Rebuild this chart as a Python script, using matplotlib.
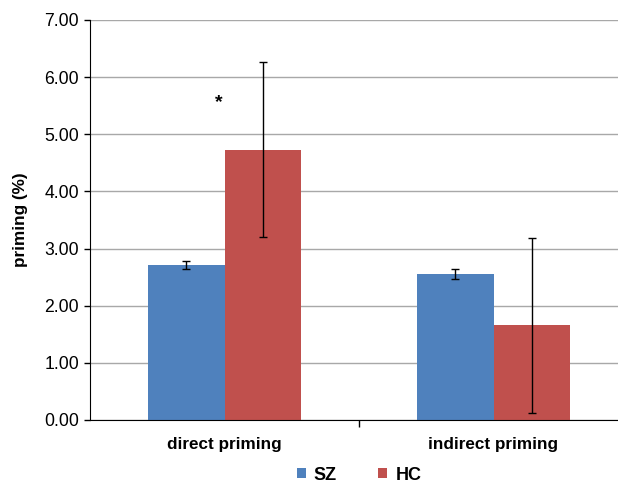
import matplotlib.pyplot as plt
import numpy as np

plt.rcParams['font.family'] = ['Liberation Sans', 'DejaVu Sans']

# data
categories = ["direct priming", "indirect priming"]
groups = ["SZ", "HC"]
sz_mean = [2.71, 2.55]
sz_err = [0.07, 0.09]
hc_mean = [4.73, 1.66]
hc_err = [1.53, 1.53]
colors = ["#4f81bd", "#c0504d"]

fig = plt.figure(figsize=(6.18, 4.84), dpi=100)
ax = fig.add_axes([90 / 618, 64 / 484, 538 / 618, 400 / 484])

x = np.arange(len(categories))
w = 0.286
ax.bar(x - w / 2, sz_mean, w, color=colors[0], label=groups[0], zorder=2)
ax.bar(x + w / 2, hc_mean, w, color=colors[1], label=groups[1], zorder=2)
ax.errorbar(x - w / 2, sz_mean, yerr=sz_err, fmt="none", ecolor="black",
            elinewidth=1, capsize=2.6, capthick=1, zorder=3)
ax.errorbar(x + w / 2, hc_mean, yerr=hc_err, fmt="none", ecolor="black",
            elinewidth=1, capsize=2.6, capthick=1, zorder=3)

ax.text(x[0] - 0.022, 5.55, "*", ha="center", va="center", fontsize=14,
        fontweight="bold")

ax.set_xlim(-0.5, 1.5)
ax.set_ylim(0, 7)
ax.set_yticks(np.arange(0, 7.01, 1))
ax.set_yticklabels([f"{v:.2f}" for v in np.arange(0, 7.01, 1)], fontsize=12.7)
ax.set_xticks(x)
ax.set_xticklabels(categories, fontsize=12.3, fontweight="bold")
ax.tick_params(axis="x", length=0, pad=12)
ax.set_xticks([0.5, 1.5], minor=True)
ax.tick_params(axis="x", which="minor", length=5, direction="out", width=1)
ax.tick_params(axis="y", length=4, direction="out", width=1, pad=4)

ax.set_ylabel("priming (%)", fontsize=12.3, fontweight="bold")
ax.yaxis.set_label_coords(-62 / 538, 0.5)

ax.grid(axis="y", color="#a8a8a8", lw=1, zorder=0)
ax.set_axisbelow(True)
for s in ["top", "right"]:
    ax.spines[s].set_visible(False)
ax.spines["left"].set_color("black")
ax.spines["bottom"].set_color("black")

fig.legend(loc="center", bbox_to_anchor=(359 / 618, 1 - 475 / 484), ncol=2,
           frameon=False, handlelength=0.5, handleheight=0.5,
           handletextpad=0.45, columnspacing=2.3,
           prop={"weight": "bold", "size": 13})

fig.savefig("out.png", dpi=100)
